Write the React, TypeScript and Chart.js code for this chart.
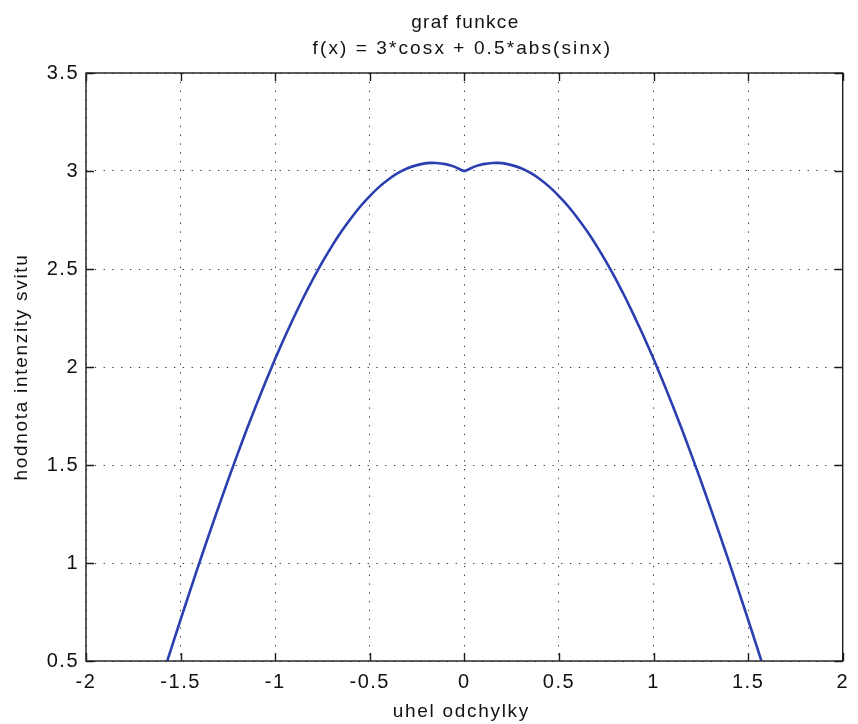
import { useEffect, useRef } from "react";
import { Chart, registerables } from "chart.js";

Chart.register(...registerables);

// values
const angleX = [
  -1.57, -1.55, -1.5, -1.45, -1.4, -1.35, -1.3, -1.25, -1.2, -1.15, -1.1, -1.05, -1.0, -0.95, -0.9, -0.85, -0.8,
  -0.75, -0.7, -0.65, -0.6, -0.55, -0.5, -0.45, -0.4, -0.35, -0.3, -0.25, -0.2, -0.15, -0.1, -0.05, 0,
  0.05, 0.1, 0.15, 0.2, 0.25, 0.3, 0.35, 0.4, 0.45, 0.5, 0.55, 0.6, 0.65, 0.7, 0.75, 0.8, 0.85, 0.9, 0.95, 1.0,
  1.05, 1.1, 1.15, 1.2, 1.25, 1.3, 1.35, 1.4, 1.45, 1.5, 1.55, 1.57,
];
const intensityY = [
  0.502, 0.562, 0.711, 0.858, 1.003, 1.145, 1.284, 1.42, 1.553, 1.682, 1.806, 1.926, 2.042, 2.152, 2.256, 2.356, 2.449,
  2.536, 2.617, 2.691, 2.758, 2.819, 2.872, 2.919, 2.958, 2.99, 3.014, 3.03, 3.04, 3.041, 3.035, 3.021, 3.0,
  3.021, 3.035, 3.041, 3.04, 3.03, 3.014, 2.99, 2.958, 2.919, 2.872, 2.819, 2.758, 2.691, 2.617, 2.536, 2.449, 2.356,
  2.256, 2.152, 2.042, 1.926, 1.806, 1.682, 1.553, 1.42, 1.284, 1.145, 1.003, 0.858, 0.711, 0.562, 0.502,
];
const xTicks = [-2, -1.5, -1, -0.5, 0, 0.5, 1, 1.5, 2];
const yTicks = [0.5, 1, 1.5, 2, 2.5, 3, 3.5];
const titleLines = ["graf funkce", "f(x) = 3*cosx + 0.5*abs(sinx)"];
const xLabel = "uhel odchylky";
const yLabel = "hodnota intenzity svitu";

const FONT = '"Liberation Sans", Arial, sans-serif';
const SPACING = "1.5px";

const spacingPlugin = {
  id: "spacing",
  beforeUpdate(chart: any) {
    chart.ctx.letterSpacing = SPACING;
  },
  beforeDraw(chart: any) {
    chart.ctx.letterSpacing = SPACING;
  },
};

const framePlugin = {
  id: "frame",
  afterDraw(chart: any) {
    const { ctx, chartArea, scales } = chart;
    const { left, right, top, bottom } = chartArea;
    const xs = scales.x;
    const ys = scales.y;
    ctx.save();
    ctx.strokeStyle = "#1c1c1c";
    ctx.lineWidth = 1.4;
    ctx.strokeRect(left, top, right - left, bottom - top);
    const tl = 8;
    ctx.beginPath();
    xTicks.forEach((v) => {
      const px = Math.round(xs.getPixelForValue(v)) + 0.5;
      ctx.moveTo(px, bottom);
      ctx.lineTo(px, bottom - tl);
      ctx.moveTo(px, top);
      ctx.lineTo(px, top + tl);
    });
    yTicks.forEach((v) => {
      const py = Math.round(ys.getPixelForValue(v)) + 0.5;
      ctx.moveTo(left, py);
      ctx.lineTo(left + tl, py);
      ctx.moveTo(right, py);
      ctx.lineTo(right - tl, py);
    });
    ctx.stroke();

    ctx.fillStyle = "#111";
    ctx.font = `19px ${FONT}`;
    ctx.textAlign = "center";
    ctx.textBaseline = "alphabetic";
    const cx = (left + right) / 2;
    ctx.letterSpacing = "1.3px";
    ctx.fillText(titleLines[0], cx + 1, 28);
    ctx.letterSpacing = "2.1px";
    ctx.fillText(titleLines[1], cx - 2, 54);
    ctx.letterSpacing = "1.7px";
    ctx.fillText(xLabel, cx - 3, 717);
    ctx.translate(27, (top + bottom) / 2);
    ctx.rotate(-Math.PI / 2);
    ctx.fillText(yLabel, 0, 0);
    ctx.restore();
  },
};

export default function App() {
  const ref = useRef<HTMLCanvasElement | null>(null);
  useEffect(() => {
    if (!ref.current) return;
    const chart = new Chart(ref.current, {
      type: "line",
      data: {
        datasets: [
          {
            data: angleX.map((x, i) => ({ x, y: intensityY[i] })),
            borderColor: "#2b3fb0",
            borderWidth: 2.6,
            pointRadius: 0,
            tension: 0.15,
            fill: false,
          },
        ],
      },
      options: {
        animation: false,
        responsive: false,
        devicePixelRatio: 1,
        layout: { padding: { left: 0, top: 73, right: 7, bottom: 0 } },
        plugins: {
          legend: { display: false },
          title: { display: false },
          tooltip: { enabled: false },
        },
        scales: {
          x: {
            type: "linear",
            min: -2,
            max: 2,
            afterBuildTicks: (s: any) => {
              s.ticks = xTicks.map((v) => ({ value: v }));
            },
            afterFit: (s: any) => {
              s.height = 63;
            },
            ticks: {
              autoSkip: false,
              maxRotation: 0,
              padding: 9,
              color: "#111",
              font: { family: FONT, size: 20 },
              callback: (v: any) => String(v),
            },
            grid: { color: "#333", lineWidth: 1, drawTicks: false },
            border: { display: false, dash: [1.3, 7.5] },
          },
          y: {
            type: "linear",
            min: 0.5,
            max: 3.5,
            afterBuildTicks: (s: any) => {
              s.ticks = yTicks.map((v) => ({ value: v }));
            },
            afterFit: (s: any) => {
              s.width = 86;
            },
            ticks: {
              autoSkip: false,
              padding: 7,
              color: "#111",
              font: { family: FONT, size: 20 },
              callback: (v: any) => String(v),
            },
            grid: { color: "#333", lineWidth: 1, drawTicks: false },
            border: { display: false, dash: [1.3, 7.5] },
          },
        },
      },
      plugins: [spacingPlugin, framePlugin],
    });
    return () => chart.destroy();
  }, []);
  return (
    <div style={{ position: "absolute", left: 0, top: 0, width: 858, height: 724, background: "#fff" }}>
      <canvas ref={ref} width={858} height={724} style={{ width: 858, height: 724, display: "block" }} />
    </div>
  );
}
